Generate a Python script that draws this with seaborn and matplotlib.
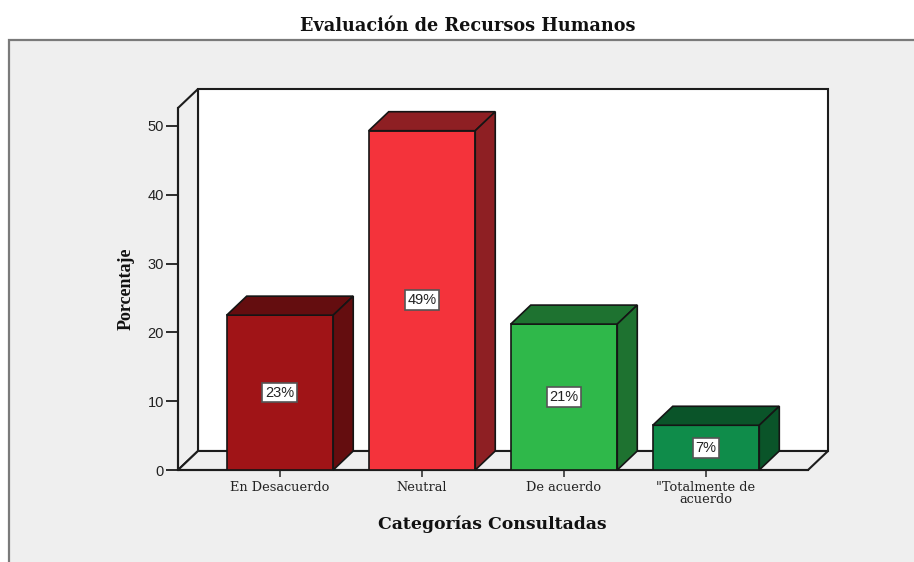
import matplotlib
matplotlib.use("Agg")
import pandas as pd
import seaborn as sns
import matplotlib.pyplot as plt
from matplotlib.patches import Rectangle

# values
categorias = ["En Desacuerdo", "Neutral", "De acuerdo", '"Totalmente de\nacuerdo']
valores = [22.5, 49.3, 21.2, 6.5]
etiquetas = ["23%", "49%", "21%", "7%"]
frente = ["#a01417", "#f4333b", "#2fb84a", "#0f8c4a"]
oscuro = ["#640d0f", "#8e1f23", "#1e7230", "#0a5429"]
ticks_y = [0, 10, 20, 30, 40, 50]

W, H = 914, 562
LINE = "#1c1c1c"
PANEL = "#efefef"

sns.set_theme(style="white")
fig = plt.figure(figsize=(W / 100, H / 100), dpi=100, facecolor="white")

# grey chart panel, runs off the right and bottom of the picture
fig.add_artist(Rectangle((9 / W, -0.01), 1.0, (H - 40) / H + 0.01, transform=fig.transFigure,
                         facecolor=PANEL, edgecolor="#7a7a7a", linewidth=1.6, zorder=-1))

ax = fig.add_axes([178 / W, (H - 470) / H, 630 / W, 362 / H])
ax.patch.set_visible(False)

df = pd.DataFrame({"categoria": categorias, "valor": valores})
ax.set_xlim(-0.718, 3.718)
ax.set_ylim(0, 52.6)

# depth of the 3D look, 20 px right and 19 px up, in data units
dx = 20 / (630 / (ax.get_xlim()[1] - ax.get_xlim()[0]))
dy = 19 / (362 / ax.get_ylim()[1])
x0, x1 = ax.get_xlim()
y1 = ax.get_ylim()[1]

# back wall, side wall, floor
ax.fill([x0 + dx, x1 + dx, x1 + dx, x0 + dx], [dy, dy, y1 + dy, y1 + dy], fc="white", ec=LINE, lw=1.5,
        clip_on=False, zorder=0)
ax.fill([x0, x0 + dx, x0 + dx, x0], [0, dy, y1 + dy, y1], fc=PANEL, ec=LINE, lw=1.5, clip_on=False, zorder=1)
ax.fill([x0, x1, x1 + dx, x0 + dx], [0, 0, dy, dy], fc=PANEL, ec=LINE, lw=1.5, clip_on=False, zorder=1)

sns.barplot(data=df, x="categoria", y="valor", hue="categoria", palette=frente, legend=False,
            width=0.75, edgecolor="#151515", linewidth=1.2, saturation=1, ax=ax, zorder=3)
ax.set_xlim(x0, x1)
ax.set_ylim(0, y1)

w = 0.75 / 2
for i, v in enumerate(valores):
    # top and right side of each bar
    ax.fill([i - w, i + w, i + w + dx, i - w + dx], [v, v, v + dy, v + dy], fc=oscuro[i], ec="#151515", lw=1.2,
            clip_on=False, zorder=3)
    ax.fill([i + w, i + w + dx, i + w + dx, i + w], [0, dy, v + dy, v], fc=oscuro[i], ec="#151515", lw=1.2,
            clip_on=False, zorder=3)
    ax.text(i, v / 2, etiquetas[i], ha="center", va="center", fontsize=10.5, family="Liberation Sans", color="#222222",
            zorder=5, bbox=dict(boxstyle="square,pad=0.2", fc="white", ec="#555555", lw=1.2))

sns.despine(ax=ax, top=True, right=True, left=False, bottom=False)
for s in ["left", "bottom"]:
    ax.spines[s].set_color(LINE)
    ax.spines[s].set_linewidth(1.5)
    ax.spines[s].set_zorder(2)

ax.set_yticks(ticks_y)
ax.tick_params(axis="y", length=9, width=1.3, color=LINE, labelsize=10.5, labelcolor="#222222", pad=1, left=True)
for t in ax.get_yticklabels():
    t.set_family("Liberation Sans")
ax.tick_params(axis="x", length=5, width=1.3, color="#444444", labelsize=9.3, labelcolor="#222222", pad=3, bottom=True)
ax.set_xticks(range(len(categorias)))
ax.set_xticklabels(categorias, family="DejaVu Serif", linespacing=0.9)
ax.set_xlabel("")
ax.set_ylabel("")

fig.text(468 / W, 1 - 26 / H, "Evaluación de Recursos Humanos", ha="center", va="center", family="DejaVu Serif",
         fontweight="bold", fontsize=12.7, color="#111111")
fig.text(492 / W, 1 - 524 / H, "Categorías Consultadas", ha="center", va="center", family="DejaVu Serif",
         fontweight="bold", fontsize=12.4, color="#111111")
fig.text(126 / W, 1 - 289 / H, "Porcentaje", ha="center", va="center", rotation=90, family="Liberation Serif",
         fontweight="bold", fontsize=13, color="#111111")

fig.savefig("out.png", dpi=100, facecolor="white")
